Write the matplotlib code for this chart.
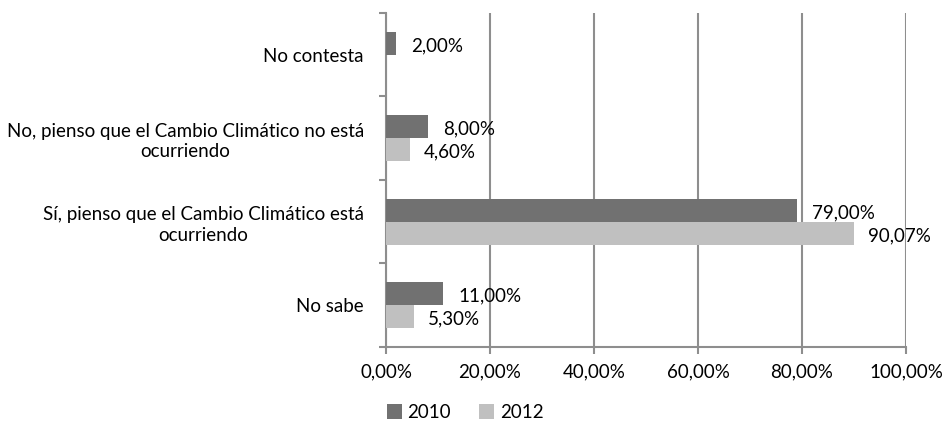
import numpy as np
import matplotlib.pyplot as plt
from matplotlib.ticker import FixedLocator, FuncFormatter

plt.rcParams['font.family'] = ['Lato', 'DejaVu Sans']

# Data (bottom to top)
categories = ['No sabe',
              'Sí, pienso que el Cambio Climático está\nocurriendo',
              'No, pienso que el Cambio Climático no está\nocurriendo',
              'No contesta']
values_2010 = [11.00, 79.00, 8.00, 2.00]
values_2012 = [5.30, 90.07, 4.60, np.nan]
labels_2010 = ['11,00%', '79,00%', '8,00%', '2,00%']
labels_2012 = ['5,30%', '90,07%', '4,60%', '']
years = ['2010', '2012']

c2010 = '#717171'
c2012 = '#c0c0c0'
grid_c = '#8e8e8e'
fs = 13.5

fig = plt.figure(figsize=(9.45, 4.23), dpi=100)
ax = fig.add_axes([0.4085, 0.1797, 0.5502, 0.7896])

y = np.arange(len(categories))
h = 0.275
b1 = ax.barh(y + h / 2, values_2010, height=h, color=c2010, label=years[0], zorder=3)
b2 = ax.barh(y - h / 2, np.nan_to_num(values_2012), height=h, color=c2012, label=years[1], zorder=3)

for i in range(len(categories)):
    ax.text(values_2010[i] + 2.9, y[i] + h / 2 - 0.03, labels_2010[i], va='center', ha='left',
            fontsize=fs, color='black', zorder=4)
    if labels_2012[i]:
        ax.text(values_2012[i] + 2.7, y[i] - h / 2 - 0.03, labels_2012[i], va='center', ha='left',
                fontsize=fs, color='black', zorder=4)

ax.set_xlim(0, 100)
ax.set_ylim(-0.5, len(categories) - 0.5)
ax.set_xticks([0, 20, 40, 60, 80, 100])
ax.xaxis.set_major_formatter(FuncFormatter(lambda v, p: f'{v:.2f}%'.replace('.', ',')))
ax.grid(axis='x', color=grid_c, linewidth=1.5, zorder=0)

ax.set_yticks(y)
ax.set_yticklabels(categories, multialignment='center', linespacing=1.25)
ax.yaxis.set_minor_locator(FixedLocator(np.arange(-0.5, len(categories), 1.0)))
ax.tick_params(axis='y', which='major', length=0, pad=16, labelsize=fs)
ax.tick_params(axis='y', which='minor', length=5, width=1.5, color=grid_c, direction='out')
ax.tick_params(axis='x', which='major', length=5, width=1.5, color=grid_c, direction='out',
               labelsize=fs, pad=7)

for s in ['top', 'right']:
    ax.spines[s].set_visible(False)
for s in ['left', 'bottom']:
    ax.spines[s].set_color(grid_c)
    ax.spines[s].set_linewidth(1.5)

fig.legend(handles=[b1, b2], labels=years, loc='center', bbox_to_anchor=(0.492, 0.025),
           ncol=2, frameon=False, fontsize=fs, handlelength=0.8, handleheight=0.8,
           handletextpad=0.3, columnspacing=1.5)

fig.savefig('out.png', dpi=100)
